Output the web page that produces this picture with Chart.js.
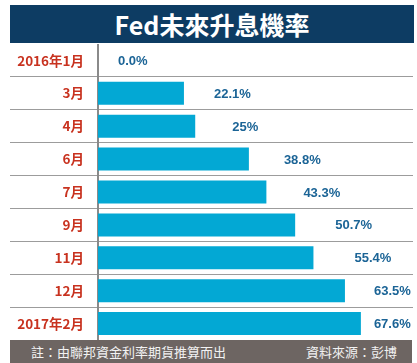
<!DOCTYPE html>
<html>
<head>
<meta charset="utf-8">
<script src="https://cdn.jsdelivr.net/npm/chart.js@4"></script>
<style>
  body { margin: 0; background: #fff; width: 417px; height: 363px; overflow: hidden; position: relative; }
  #title {
    position: absolute; left: 10px; top: 5px; width: 404px; height: 38px;
    background: #0d3c63; color: #fff; text-align: center;
    font: bold 25px "Noto Sans CJK TC", sans-serif; line-height: 38px;
  }
  #wrap { position: absolute; left: 10px; top: 44px; width: 403px; height: 296px; }
  #foot {
    position: absolute; left: 10px; top: 340px; width: 402px; height: 23px;
    background: #6d6562; color: #f2f2f2;
    font: 13px "Noto Sans CJK TC", sans-serif; line-height: 23px;
  }
  #foot .l { position: absolute; left: 21px; }
  #foot .r { position: absolute; right: 15px; }
</style>
</head>
<body>
<div id="title">Fed未來升息機率</div>
<div id="wrap"><canvas id="rates"></canvas></div>
<div id="foot"><span class="l">註：由聯邦資金利率期貨推算而出</span><span class="r">資料來源：彭博</span></div>
<script>
const months = ["2016年1月", "3月", "4月", "6月", "7月", "9月", "11月", "12月", "2017年2月"];
const probability = [0, 22.1, 25, 38.8, 43.3, 50.7, 55.4, 63.5, 67.6];
const valueText = ["0.0%", "22.1%", "25%", "38.8%", "43.3%", "50.7%", "55.4%", "63.5%", "67.6%"];

// gap between bar end and its label, the original places them by hand
const labelGap = [20, 30, 37, 35, 37, 40, 41, 29, 13];

const valueLabels = {
  id: "valueLabels",
  afterDatasetsDraw(chart) {
    const ctx = chart.ctx;
    ctx.save();
    ctx.font = "bold 13px 'Liberation Sans', Arial, sans-serif";
    ctx.fillStyle = "#1b6496";
    ctx.textAlign = "left";
    ctx.textBaseline = "middle";
    chart.getDatasetMeta(0).data.forEach(function (bar, i) {
      ctx.fillText(valueText[i], bar.x + labelGap[i], bar.y + 1);
    });
    ctx.restore();
  },
};

new Chart(document.getElementById("rates"), {
  type: "bar",
  data: {
    labels: months,
    datasets: [
      {
        data: probability,
        backgroundColor: "#03a8d4",
        borderWidth: 0,
        barPercentage: 0.7,
        categoryPercentage: 1,
      },
    ],
  },
  options: {
    indexAxis: "y",
    responsive: true,
    maintainAspectRatio: false,
    animation: false,
    layout: { padding: 0 },
    scales: {
      x: {
        display: false,
        min: 0,
        max: 81,
      },
      y: {
        afterFit: function (scale) {
          scale.width = 88;
        },
        grid: {
          offset: true,
          color: function (ctx) {
            return ctx.index === 0 ? "rgba(0,0,0,0)" : "#9c9c9c";
          },
          lineWidth: 1,
          tickLength: 88,
        },
        border: { color: "#8a8a8a", width: 2 },
        ticks: {
          padding: -74,
          color: "#c8321f",
          font: { family: "'Noto Sans CJK TC', sans-serif", size: 13.5, weight: "bold" },
        },
      },
    },
    plugins: {
      legend: { display: false },
      tooltip: { enabled: false },
    },
  },
  plugins: [valueLabels],
});
</script>
</body>
</html>
